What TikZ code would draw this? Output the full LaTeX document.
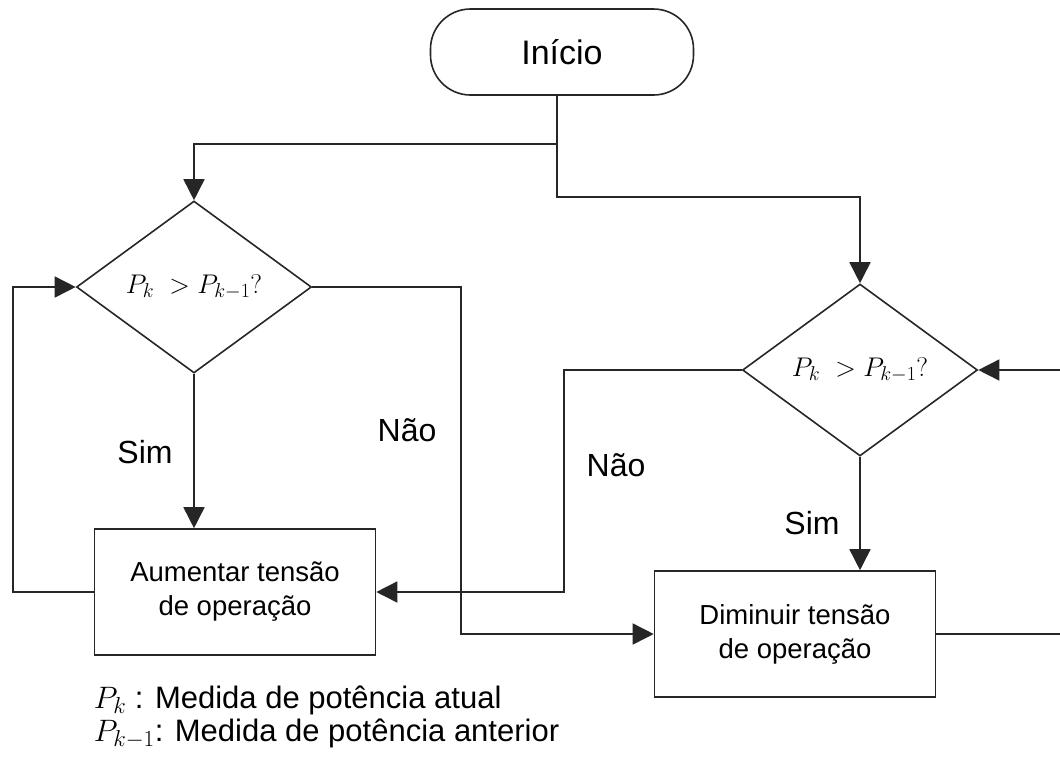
\RequirePackage{fix-cm}
\documentclass[tikz,border=0pt]{standalone}
\usepackage{amsmath}
\usepackage{fontspec}
\setmainfont{Liberation Sans}
\usepackage{tikz}
\usetikzlibrary{shapes.geometric,arrows.meta,positioning}
\DeclareMathSizes{27}{27}{20}{15}
\DeclareMathSizes{31}{31}{23}{17}

\tikzset{
  inicio/.style={draw, rounded corners=40pt, minimum width=263pt, minimum height=86pt,
    font=\fontsize{34}{40}\selectfont},
  decisao/.style={draw, diamond, inner sep=0pt, minimum width=235pt, minimum height=172pt,
    font=\fontsize{27}{32}\selectfont},
  processo/.style={draw, align=center, minimum width=281pt, minimum height=126pt,
    font=\fontsize{27.5}{34}\selectfont},
  rotulo/.style={font=\fontsize{32}{36}\selectfont},
  legenda/.style={anchor=base west, inner sep=0pt, font=\fontsize{31}{36}\selectfont},
  fluxo/.style={-{Triangle[length=21pt,width=21pt]}},
}

\begin{document}
\begin{tikzpicture}[x=1pt, y=-1pt, line width=1.6pt, color=black!85,
    every node/.style={text=black}]
        \useasboundingbox (0,0) rectangle (1060,756);
        \clip (0,0) rectangle (1060,756);

        \node[inicio] (I) at (562,52) {Início};
        \node[decisao] (D1) at (194,287) {$P_k\; > P_{k-1}?$};
        \node[decisao] (D2) at (860,370) {$P_k\; > P_{k-1}?$};
        \node[processo] (A) at (235,592) {Aumentar tensão\\de operação};
        \node[processo] (B) at (795,634) {Diminuir tensão\\de operação};

        \node[rotulo] (S1) at (145,452) {Sim};
        \node[rotulo] (N1) at (407,430) {Não};
        \node[rotulo] (N2) at (616,465) {Não};
        \node[rotulo] (S2) at (812,523) {Sim};

        % legenda
        \node[legenda] (L1) at (93,708) {$P_k$ : Medida de potência atual};
        \node[legenda] (L2) at (93,741) {$P_{k-1}$: Medida de potência anterior};

        \coordinate (j1) at (557,144);
        \coordinate (j2) at (557,197);
        \coordinate (c1) at (461,0);
        \coordinate (c2) at (564,0);

        \draw[fluxo] ([xshift=-5pt]I.south) -- (j2) -| (D2.north);
        \draw[fluxo] (j1) -| (D1.north);
        \draw[fluxo] (D1.south) -- (D1.south |- A.north);
        \draw[fluxo] (D1.east) -- (D1.east -| c1) |- (B.west);
        \draw[fluxo] (A.west) -- ++(-81,0) |- (D1.west);
        \draw[fluxo] (D2.west) -- (D2.west -| c2) |- (A.east);
        \draw[fluxo] (D2.south) -- (D2.south |- B.north);
        \draw[fluxo] (B.east) -- ++(130,0) |- (D2.east);
\end{tikzpicture}
\end{document}
